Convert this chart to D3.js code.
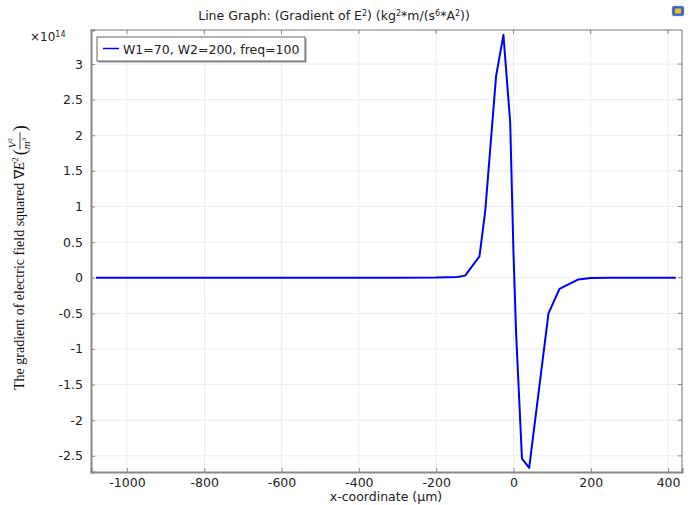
<!DOCTYPE html>
<html>
<head>
<meta charset="utf-8">
<script src="https://cdn.jsdelivr.net/npm/d3@7"></script>
<style>
  body { margin: 0; background: white; }
  text { font-family: "DejaVu Sans", sans-serif; }
</style>
</head>
<body>
<svg id="chart"></svg>
<script>
//SET UP THE CANVAS
var w = 695;
var h = 505;
var margin = {left: 91, right: 13, top: 30, bottom: 33};

//DATA (y values in units of 1e14)
var xCoord = [-1080, -1000, -800, -600, -400, -300, -200, -146, -125, -88, -73, -45, -26, -8.5, 0, 7, 22, 40.6, 90.6, 119, 168, 200, 250, 300, 420];
var gradE2 = [0, 0, 0, 0, 0, 0, 0.002, 0.01, 0.03, 0.30, 0.94, 2.83, 3.41, 2.18, 0.35, -0.8, -2.54, -2.67, -0.5, -0.155, -0.024, -0.005, -0.001, 0, 0];
var xTicks = [-1000, -800, -600, -400, -200, 0, 200, 400];
var yTicks = [-2.5, -2, -1.5, -1, -0.5, 0, 0.5, 1, 1.5, 2, 2.5, 3];
var seriesName = "W1=70, W2=200, freq=100";

var svg = d3.select("#chart")
     .attr("width", w)
     .attr("height", h)
     .style("background-color", "white");

var xScale = d3.scaleLinear()
     .domain([-1093, 436])
     .range([margin.left, w - margin.right]);
var yScale = d3.scaleLinear()
     .domain([-2.727, 3.478])
     .range([h - margin.bottom, margin.top]);

var x0 = margin.left, x1 = w - margin.right;
var y0 = h - margin.bottom, y1 = margin.top;

//GRID
svg.append("g").selectAll("line.gx")
     .data(xTicks).enter().append("line")
     .attr("x1", d => xScale(d)).attr("x2", d => xScale(d))
     .attr("y1", y1).attr("y2", y0)
     .attr("stroke", "#ececec").attr("stroke-width", 1);
svg.append("g").selectAll("line.gy")
     .data(yTicks).enter().append("line")
     .attr("x1", x0).attr("x2", x1)
     .attr("y1", d => yScale(d)).attr("y2", d => yScale(d))
     .attr("stroke", "#ececec").attr("stroke-width", 1);

//FRAME (thin top/right)
svg.append("path")
     .attr("d", "M" + x0 + "," + y1 + "H" + x1 + "V" + y0)
     .attr("fill", "none").attr("stroke", "#777").attr("stroke-width", 1);

//AXES with inner ticks
var xAxis = d3.axisBottom(xScale).tickValues(xTicks).tickSize(-4).tickPadding(6).tickFormat(d => String(d));
var yAxis = d3.axisLeft(yScale).tickValues(yTicks).tickSize(-4).tickPadding(8).tickFormat(d => String(d));

var gx = svg.append("g").attr("transform", "translate(0," + y0 + ")").call(xAxis);
var gy = svg.append("g").attr("transform", "translate(" + x0 + ",0)").call(yAxis);
[gx, gy].forEach(function (g) {
     g.select(".domain").attr("stroke", "#888").attr("stroke-width", 2);
     g.selectAll(".tick line").attr("stroke", "#888");
     g.selectAll(".tick text").attr("fill", "#222").style("font-size", "12.5px")
          .style("font-family", "DejaVu Sans, sans-serif");
});
// ticks on top and right
svg.append("g").selectAll("line")
     .data(xTicks).enter().append("line")
     .attr("x1", d => xScale(d)).attr("x2", d => xScale(d))
     .attr("y1", y1).attr("y2", y1 + 4).attr("stroke", "#888");
svg.append("g").selectAll("line")
     .data(yTicks).enter().append("line")
     .attr("x1", x1).attr("x2", x1 - 4)
     .attr("y1", d => yScale(d)).attr("y2", d => yScale(d)).attr("stroke", "#888");

//LINE
var lineMaker = d3.line()
     .x((d, i) => xScale(xCoord[i]))
     .y(d => yScale(d));
svg.append("path")
     .attr("d", lineMaker(gradE2))
     .attr("fill", "none")
     .attr("stroke", "#0000ff")
     .attr("stroke-width", 2)
     .attr("stroke-linejoin", "round");

//text runs with superscripts: [string, isSup]
function addRuns(t, runs) {
     var raised = false;
     runs.forEach(function (r) {
          var sup = r[1];
          var dy = sup ? (raised ? 0 : -4) : (raised ? 4 : 0);
          raised = sup;
          t.append("tspan").text(r[0])
               .attr("dy", dy)
               .style("font-size", sup ? "8px" : null);
     });
}

//TITLE
var title = svg.append("text")
     .attr("x", 334).attr("y", 20)
     .attr("text-anchor", "middle")
     .style("font-size", "12.5px").attr("fill", "#222");
addRuns(title, [["Line Graph: (Gradient of E"], ["2", true], [") (kg"], ["2", true],
     ["*m/(s"], ["6", true], ["*A"], ["2", true], ["))"]]);

//EXPONENT
var expo = svg.append("text").attr("x", 30).attr("y", 41).attr("fill", "#222").style("font-size", "12px");
addRuns(expo, [["\u00d710"], ["14", true]]);

//X LABEL
svg.append("text")
     .attr("x", 386).attr("y", 501)
     .attr("text-anchor", "middle")
     .style("font-size", "12.5px").attr("fill", "#222")
     .text("x-coordinate (\u00b5m)");

//Y LABEL (serif, with stacked fraction)
var yl = svg.append("g").attr("transform", "translate(24,390) rotate(-90)");
var ylt = yl.append("text").attr("x", 0).attr("y", 0)
     .style("font-family", "Liberation Serif, serif").style("font-size", "14px").attr("fill", "#111");
ylt.append("tspan").text("The gradient of electric field squared \u2207");
ylt.append("tspan").text("E").style("font-style", "italic");
ylt.append("tspan").text("2").attr("dy", -6).style("font-size", "9px");
var len = ylt.node().getComputedTextLength();
var fx = len + 2;
yl.append("text").attr("x", fx).attr("y", 2).text("(")
     .style("font-family", "Liberation Serif, serif").style("font-size", "18px").attr("fill", "#111");
var fr = yl.append("g").attr("transform", "translate(" + (fx + 6) + ",0)");
var num = fr.append("text").attr("x", 1).attr("y", -8)
     .style("font-family", "Liberation Serif, serif").style("font-size", "11px").attr("fill", "#111");
num.append("tspan").text("V").style("font-style", "italic");
num.append("tspan").text("2").attr("dy", -4).style("font-size", "7px");
fr.append("line").attr("x1", 0).attr("x2", 17).attr("y1", -4).attr("y2", -4).attr("stroke", "#111").attr("stroke-width", 0.8);
var den = fr.append("text").attr("x", 0).attr("y", 6)
     .style("font-family", "Liberation Serif, serif").style("font-size", "11px").attr("fill", "#111");
den.append("tspan").text("m").style("font-style", "italic");
den.append("tspan").text("3").attr("dy", -4).style("font-size", "7px");
yl.append("text").attr("x", fx + 24).attr("y", 2).text(")")
     .style("font-family", "Liberation Serif, serif").style("font-size", "18px").attr("fill", "#111");

//LEGEND
var lg = svg.append("g").attr("transform", "translate(97,37)");
lg.append("rect").attr("x", 1.5).attr("y", 1.5).attr("width", 208).attr("height", 24)
     .attr("fill", "#999");
lg.append("rect").attr("x", 0).attr("y", 0).attr("width", 208).attr("height", 24)
     .attr("fill", "white").attr("stroke", "#666").attr("stroke-width", 1);
lg.append("line").attr("x1", 6).attr("x2", 22).attr("y1", 11.5).attr("y2", 11.5)
     .attr("stroke", "#0000ff").attr("stroke-width", 1.5);
lg.append("text").attr("x", 26).attr("y", 16.5)
     .style("font-size", "12.5px").attr("fill", "#222")
     .text(seriesName);

//ICON (top right)
var ic = svg.append("g").attr("transform", "translate(672,6)");
ic.append("rect").attr("width", 12).attr("height", 10).attr("rx", 2)
     .attr("fill", "#3a66c8").attr("stroke", "#9ab").attr("stroke-width", 0.5);
ic.append("rect").attr("x", 3).attr("y", 2.5).attr("width", 6).attr("height", 5)
     .attr("fill", "#f0c020");
</script>
</body>
</html>
